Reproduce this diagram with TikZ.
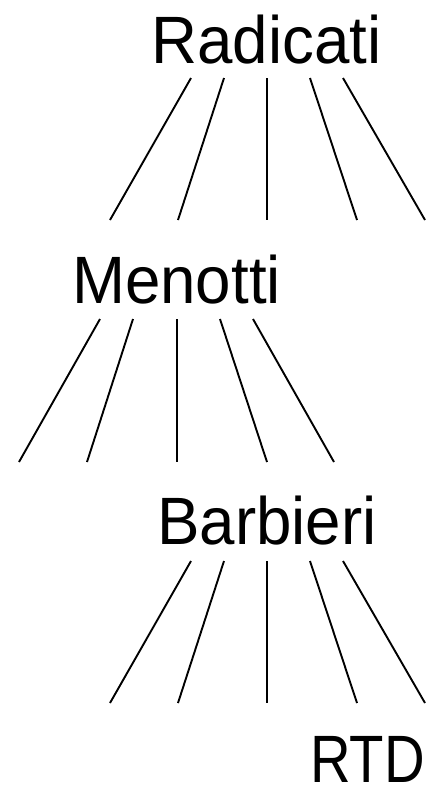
\documentclass[tikz,border=0pt]{standalone}
\usepackage{fontspec}
\setmainfont[FakeStretch=0.95]{Liberation Sans}
\newfontfamily\narrowlbl[FakeStretch=0.84]{Liberation Sans}
\begin{document}
\begin{tikzpicture}[x=1pt,y=-1pt,
  lbl/.style={anchor=base,inner sep=0pt,outer sep=0pt,font=\fontsize{67}{67}\selectfont},
  fan/.style={line width=1.9pt,black}]
\useasboundingbox (0,0) rectangle (427,785);
% labels
\node[lbl] (rad) at (266.5,63) {Radicati};
\node[lbl] (men) at (176.5,303) {Menotti};
\node[lbl] (bar) at (267,544) {Barbieri};
\node[lbl,font=\narrowlbl\fontsize{67}{67}\selectfont] (rtd) at (367.5,782) {RTD};
% fan under Radicati
\coordinate (a1t) at (191,78); \coordinate (a1b) at (110,220);
\coordinate (a2t) at (224,78); \coordinate (a2b) at (178,220);
\coordinate (a3t) at (267,78); \coordinate (a3b) at (267,220);
\coordinate (a4t) at (310,78); \coordinate (a4b) at (357,220);
\coordinate (a5t) at (343,78); \coordinate (a5b) at (425,220);
% fan under Menotti
\coordinate (b1t) at (100,319); \coordinate (b1b) at (19,462);
\coordinate (b2t) at (133,319); \coordinate (b2b) at (87,462);
\coordinate (b3t) at (177,319); \coordinate (b3b) at (177,462);
\coordinate (b4t) at (220,319); \coordinate (b4b) at (267,462);
\coordinate (b5t) at (253,319); \coordinate (b5b) at (334,462);
% fan under Barbieri
\coordinate (c1t) at (191,561); \coordinate (c1b) at (110,703);
\coordinate (c2t) at (224,561); \coordinate (c2b) at (178,703);
\coordinate (c3t) at (267,561); \coordinate (c3b) at (267,703);
\coordinate (c4t) at (310,561); \coordinate (c4b) at (357,703);
\coordinate (c5t) at (343,561); \coordinate (c5b) at (425,703);
\foreach \g in {a,b,c}{
  \foreach \i in {1,...,5}{
    \draw[fan] (\g\i t) -- (\g\i b);
  }
}
\end{tikzpicture}
\end{document}
